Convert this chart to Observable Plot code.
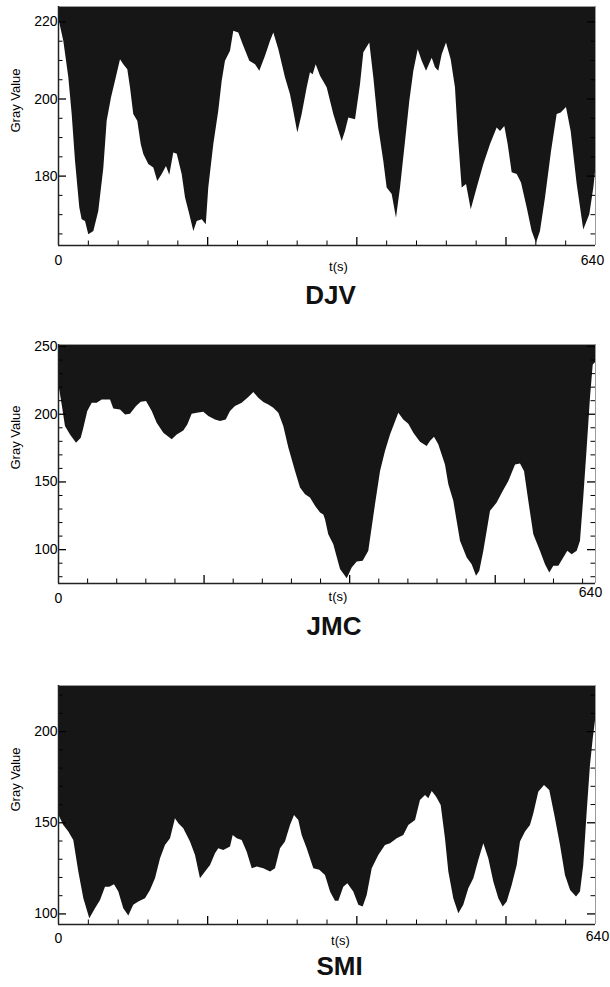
<!DOCTYPE html>
<html><head><meta charset="utf-8">
<script src="https://cdn.jsdelivr.net/npm/d3@7"></script>
<script src="https://cdn.jsdelivr.net/npm/@observablehq/plot@0.6"></script>
<style>
html,body{margin:0;padding:0;background:#fff;}
#chart{width:610px;}
#chart svg{display:block;}
</style></head><body><div id="chart"></div>
<script>
// ---- data (t in seconds, gray value) ----
const djvTime = [0,1.5,6.3,12.3,16.3,20.3,25.4,28.2,32.2,36.1,
42.1,48.0,54.0,58.0,63.2,67.9,73.9,77.8,82.6,85.8,
89.7,94.5,98.6,101.7,107.6,113.6,118.3,123.6,128.7,132.6,
137.4,141.5,147.4,151.4,156.5,161.3,165.3,171.3,176.1,179.1,
185.1,191.0,195.1,199.0,205.0,208.9,214.9,220.1,228.0,234.8,
239.9,246.7,252.7,256.6,262.6,270.5,276.5,280.4,285.2,290.4,
296.4,300.3,303.5,307.1,312.3,320.2,328.1,338.1,342.0,346.0,
354.0,359.9,363.9,371.0,375.8,381.7,387.7,391.7,397.7,402.8,
407.6,413.6,418.7,423.5,428.7,433.5,438.6,445.4,449.3,453.2,
457.3,462.4,468.0,473.1,476.4,481.1,486.3,491.9,499.0,506.9,
514.9,522.8,526.8,531.9,535.9,540.7,546.7,551.8,558.6,564.5,
569.7,574.4,580.4,587.6,594.3,599.1,605.4,611.0,618.2,626.0,
633.2,638.0,640];
const djvValue = [221,219.7,215,205.5,196,183.8,171.7,168.7,168.2,164.8,
165.6,170.8,182,194.2,200.3,204.6,210.2,208.9,207.6,202.9,
196,194.2,188.2,185.6,183,182.1,178.6,180.4,182.5,180.2,
186,185.7,180.4,174.3,170,165.6,168.2,168.7,167.4,176.9,
188.2,196.8,204.6,209.8,212.4,217.6,217.1,214.1,209.8,208.9,
207.2,211.1,215,217.1,212.8,205.5,201.1,196.8,191.2,196,
202.9,206.8,206.3,208.9,205.9,202.9,196,189,191.6,195.1,
194.6,203.7,212,214.5,205.5,192.5,183.8,176.9,175.2,169.1,
176.9,189,199.4,207.2,212.8,209.8,207.2,210.6,208.1,207.2,
211.5,214.5,210.2,202.9,190.8,176.9,177.8,171.3,176.9,183,
188.2,192.5,191.6,192.9,188.2,180.9,180.4,178.2,171.7,165.6,
162.6,165.6,174.3,186.4,196,196.4,197.8,191.6,177.8,166,
170,176.9,181];

const jmcTime = [0,1.5,4.4,8.3,14.3,21.5,27.1,30.2,34.9,40.2,
46.1,52.1,62.0,65.9,73.9,79.9,85.8,93.0,98.6,104.9,
111.7,117.6,125.5,135.5,141.5,149.3,154.1,159.3,165.3,173.2,
179.1,187.1,193.1,199.9,205.0,210.9,218.9,226.8,232.8,238.7,
244.7,250.6,256.6,262.6,268.5,274.5,282.5,288.4,294.4,300.3,
306.3,312.3,316.2,318.2,322.1,328.1,336.1,344.1,350.0,356.0,
363.1,369.8,377.8,383.8,389.7,395.7,405.6,411.5,417.5,423.5,
431.4,439.4,443.3,448.1,453.2,461.2,465.2,471.1,479.1,487.1,
493.0,498.2,502.1,506.9,514.9,522.8,530.0,536.7,544.7,550.6,
555.4,560.5,566.5,574.4,580.4,585.5,590.3,596.3,602.2,607.0,
612.2,618.2,622.1,626.0,630.1,634.0,637.3,640];
const jmcValue = [219,217.9,206.9,190.9,184.7,178.6,182.3,189.7,202,208.1,
208.1,210.5,210.5,203.9,203.2,199.5,200,205.7,208.8,209.4,
202,193.4,186,181.1,184.7,187.7,192.1,200,200.7,201.5,
198.3,195.8,194.6,195.8,202,205.7,208.1,212.3,216,211.8,
208.6,206.9,204.4,200.7,190.9,175,157.8,145.5,140.5,138.1,
132,127,125.5,122,111,103.7,85.3,78.6,86.5,90.9,
91.4,98.8,133.2,157.8,172.5,184.7,200.7,195.8,192.6,186,
179.4,176.2,179.9,183,177.4,162.6,147.9,135.7,106.2,93.9,
88.9,80.4,84,98.8,128.3,134.4,143,150.4,162.6,163.2,
157.8,135.7,111,98.8,88.9,82.8,87.7,87.7,93.9,98.8,
96.3,98.8,106.2,138.1,175,211.8,236.3,238];

const smiTime = [0,1.5,6.3,12.3,18.2,24.2,30.2,37.3,44.1,50.1,
56.0,61.1,66.7,71.9,77.8,83.8,89.7,95.7,103.7,109.6,
115.6,121.6,127.5,133.5,139.4,143.4,149.3,157.3,163.3,169.2,
175.2,181.2,187.1,191.0,197.0,205.0,208.2,213.0,218.9,224.9,
230.9,236.8,244.7,252.7,258.6,264.6,270.5,276.5,281.3,286.4,
290.4,296.4,304.3,311.4,318.2,324.2,330.1,334.1,340.0,344.8,
351.9,357.9,363.1,367.9,373.9,381.7,389.7,395.7,403.7,411.5,
417.5,425.5,431.4,437.4,441.3,445.4,450.5,456.1,461.2,465.2,
471.1,477.1,483.0,489.0,495.0,500.9,506.9,512.8,518.8,524.8,
530.0,534.8,540.7,546.7,550.6,556.6,562.5,566.5,572.4,579.2,
585.5,592.3,598.3,604.2,610.3,617.4,622.1,626.0,630.1,634.0,
637.3,640];
const smiValue = [154,153.1,148.5,144.9,140.3,123,108.3,97.4,102.9,107.4,
114.7,114.7,116,112,102.9,98.8,104.7,106.5,108.3,112.9,
119.3,130.3,137.6,141.2,152.2,149.5,146.7,139.4,132.1,119.3,
123,126.6,133,135.7,134.8,136.7,143,141.2,140.3,133.9,
124.8,125.7,124.8,123,124.8,135.7,139.4,148.5,154,151.3,
143,135.7,124.8,123.9,121.1,112,106.9,106.9,114.7,116.6,
112,104.7,103.8,110.1,124.8,132.1,137.6,138.5,141.2,143,
148.5,151.3,162.2,165,163.2,167.2,164.1,159.5,141.2,123,
108.3,100.1,104.7,113.8,119.3,129.3,138.5,130.3,117.5,108.3,
103.8,106.5,115.6,126.6,139.4,144.9,148.5,154.9,166.8,170.4,
167.7,152.2,137.6,121.1,112.9,109.3,112,126.6,155.9,181.4,
196,206];

// tick labels
const djvYLabels = [180, 200, 220];
const jmcYLabels = [100, 150, 200, 250];
const smiYLabels = [100, 150, 200];
const xTickValues = [0, 640];
const xTickLabels = ["0", "640"];
const xTitle = "t(s)";
const yTitle = "Gray Value";
const panelNames = ["DJV", "JMC", "SMI"];

// ---- layout / style ----
const W = 610, ML = 58, MR = 15;
const FONT = "'Liberation Sans', Arial, Helvetica, sans-serif";
const panels = [
  {name: panelNames[0], time: djvTime, value: djvValue, yLabels: djvYLabels,
   yDomain: [162, 224], yMinor: d3.range(165, 221, 5), xStep: 640/18,
   height: 320, mt: 6, mb: 75, zeroDy: 19, endDy: 19.5, endDx: -3, tsDy: 25, tsDx: 11.5, titleDy: 58, titleDx: 3.5, grayDy: 6.5},
  {name: panelNames[1], time: jmcTime, value: jmcValue, yLabels: jmcYLabels,
   yDomain: [75, 251.5], yMinor: d3.range(80, 251, 10), xStep: 34.7,
   height: 330, mt: 24, mb: 67, zeroDy: 19, endDy: 13, endDx: -5, tsDy: 17, tsDx: 11, titleDy: 51, titleDx: 7, grayDy: 5.5},
  {name: panelNames[2], time: smiTime, value: smiValue, yLabels: smiYLabels,
   yDomain: [94.2, 225.3], yMinor: d3.range(100, 221, 10), xStep: 640/18,
   height: 337, mt: 35, mb: 63, zeroDy: 18, endDy: 16, endDx: 2, tsDy: 20, tsDx: 13.5, titleDy: 50, titleDx: 12.5, grayDy: 6.5}
];

function makePanel(p) {
  const data = p.time.map((t, i) => ({t, v: p.value[i]}));
  const [yBot, yTop] = p.yDomain;
  const plotH = p.height - p.mt - p.mb;
  const plotW = W - ML - MR;
  const minorLen = 4.5, majorLen = 8;
  const yMajor = p.yMinor.filter(v => p.yLabels.includes(v));
  const yMinorOnly = p.yMinor.filter(v => !p.yLabels.includes(v));
  const xAll = d3.range(1, 19).map(i => ({i, t: i * p.xStep})).filter(d => d.t < 639);
  const xMajor = xAll.filter(d => d.i % 5 === 0).map(d => d.t);
  const xMinor = xAll.filter(d => d.i % 5 !== 0).map(d => d.t);
  const xLab = xTickValues.map((t, i) => ({t, s: xTickLabels[i]}));
  return Plot.plot({
    width: W, height: p.height,
    marginLeft: ML, marginRight: MR, marginTop: p.mt, marginBottom: p.mb,
    style: {fontFamily: FONT, color: "#000", background: "#fff", overflow: "visible"},
    x: {domain: [0, 640], axis: null},
    y: {domain: p.yDomain, axis: null},
    marks: [
      Plot.areaY(data, {x: "t", y1: "v", y2: () => yTop, fill: "#161616", curve: "linear"}),
      // inward ticks, left
      Plot.tickY(yMinorOnly, {y: d => d, insetRight: plotW - minorLen, stroke: "#000", strokeWidth: 1}),
      Plot.tickY(yMajor, {y: d => d, insetRight: plotW - majorLen, stroke: "#000", strokeWidth: 1.3}),
      // inward ticks, right
      Plot.tickY(yMinorOnly, {y: d => d, insetLeft: plotW - minorLen, stroke: "#000", strokeWidth: 1}),
      Plot.tickY(yMajor, {y: d => d, insetLeft: plotW - majorLen, stroke: "#000", strokeWidth: 1.3}),
      // inward ticks, bottom
      Plot.tickX(xMinor, {x: d => d, insetTop: plotH - minorLen, stroke: "#000", strokeWidth: 1}),
      Plot.tickX(xMajor, {x: d => d, insetTop: plotH - majorLen, stroke: "#000", strokeWidth: 1.3}),
      // frame
      Plot.ruleY([yTop], {stroke: "#9a9a9a", strokeWidth: 1}),
      Plot.ruleX([640], {stroke: "#9a9a9a", strokeWidth: 1}),
      Plot.ruleX([0], {stroke: "#222", strokeWidth: 1.5}),
      Plot.ruleY([yBot], {stroke: "#222", strokeWidth: 1.5}),
      // y tick labels
      Plot.text(p.yLabels, {x: () => 0, y: d => d, text: d => String(d), textAnchor: "end", dx: -1, fontSize: 14, fill: "#000"}),
      // x tick labels
      Plot.text(xLab.slice(0, 1), {x: "t", text: "s", frameAnchor: "bottom", dy: p.zeroDy, fontSize: 14, fill: "#000"}),
      Plot.text(xLab.slice(1), {x: "t", text: "s", frameAnchor: "bottom", dy: p.endDy, dx: p.endDx, fontSize: 14, fill: "#000"}),
      // axis titles
      Plot.text([xTitle], {frameAnchor: "bottom", dx: p.tsDx, dy: p.tsDy, fontSize: 13, fill: "#000"}),
      Plot.text([yTitle], {frameAnchor: "left", rotate: -90, dx: -42.5, dy: p.grayDy, fontSize: 13, fill: "#000"}),
      // panel title
      Plot.text([p.name], {frameAnchor: "bottom", dx: p.titleDx, dy: p.titleDy, fontSize: 26, fontWeight: "bold", fill: "#111"})
    ]
  });
}

const root = document.getElementById("chart");
for (const p of panels) root.appendChild(makePanel(p));
</script>
</body></html>
